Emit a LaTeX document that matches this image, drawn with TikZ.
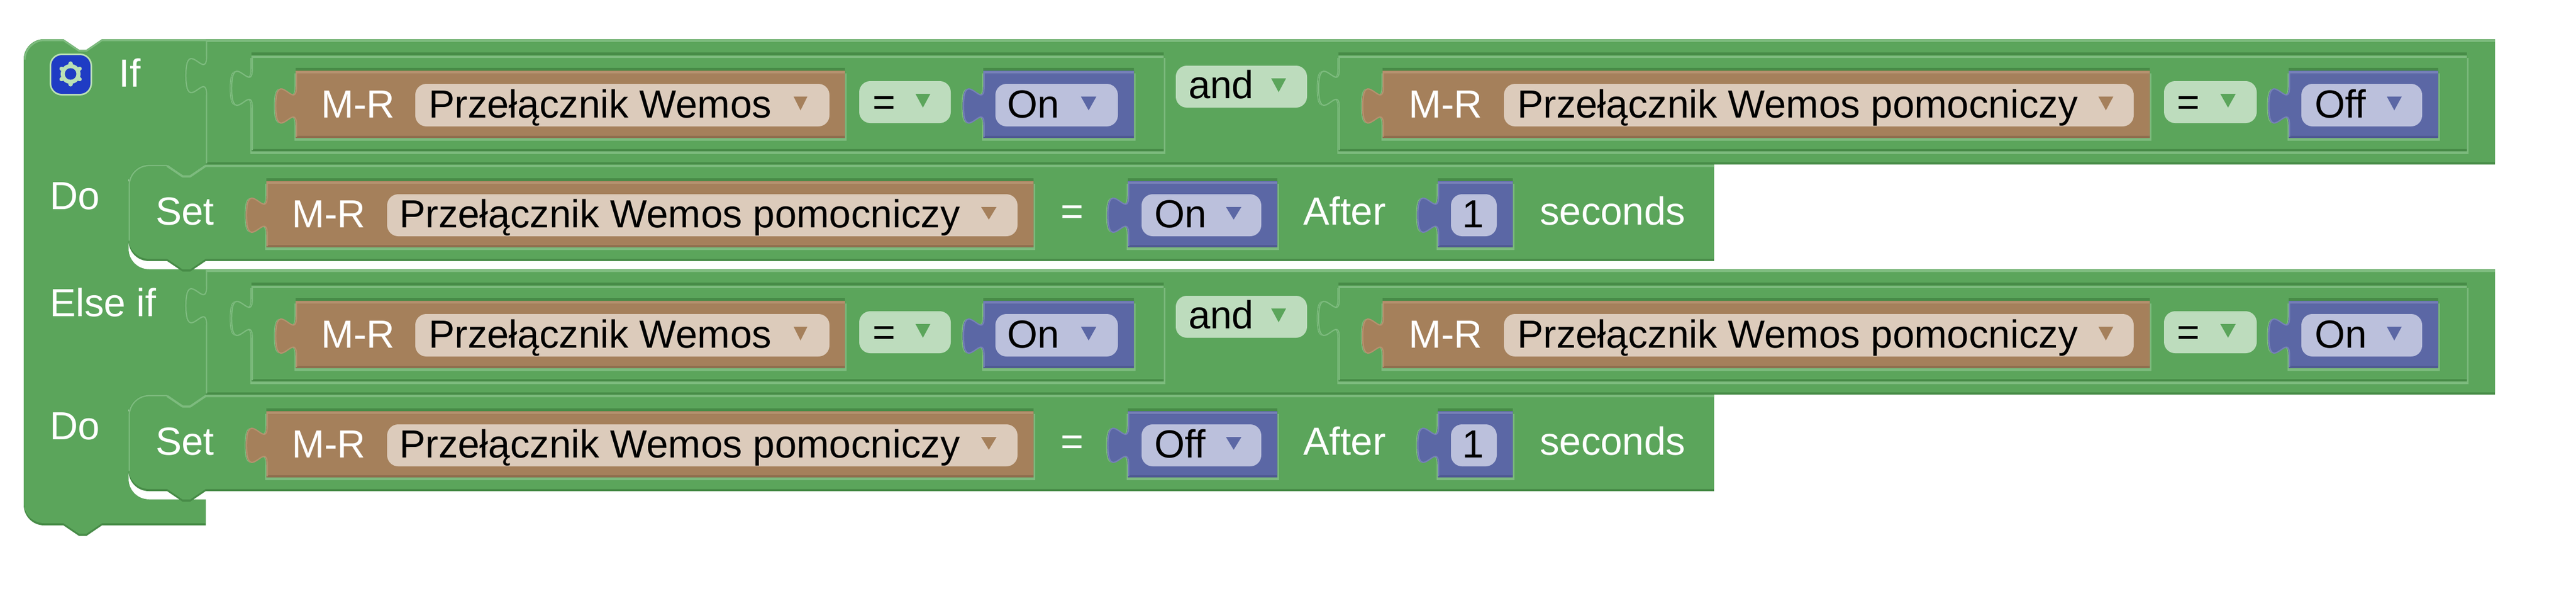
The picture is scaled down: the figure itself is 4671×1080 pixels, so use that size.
\documentclass[tikz,border=0pt]{standalone}
\usepackage{fontspec}
\setmainfont{Liberation Sans}
\definecolor{grnM}{HTML}{5BA55B}
\definecolor{grnD}{HTML}{478B47}
\definecolor{grnL}{HTML}{7DBB7E}
\definecolor{grnF}{HTML}{BDDCBD}
\definecolor{brnM}{HTML}{A5805B}
\definecolor{brnD}{HTML}{8F6E4E}
\definecolor{brnL}{HTML}{B5926F}
\definecolor{brnF}{HTML}{DCCBBB}
\definecolor{bluM}{HTML}{5B67A5}
\definecolor{bluD}{HTML}{4F5A92}
\definecolor{bluL}{HTML}{7680B8}
\definecolor{bluF}{HTML}{BBC0DC}
\definecolor{gearB}{HTML}{1F3CC4}
\definecolor{gearL}{HTML}{BBE0B5}
\tikzset{
  wtext/.style={anchor=base west,inner sep=0pt,text=white,font=\fontsize{14.2}{17}\selectfont},
  btext/.style={anchor=base west,inner sep=0pt,text=black,font=\fontsize{14.2}{17}\selectfont},
  ctext/.style={anchor=base,inner sep=0pt,text=black,font=\fontsize{14.2}{17}\selectfont},
  cwtext/.style={anchor=base,inner sep=0pt,text=white,font=\fontsize{14.2}{17}\selectfont},
  fieldbox/.style={rounded corners=4pt},
  lightedge/.style={line width=0.8pt,line join=round},
  thinedge/.style={line width=0.45pt,line join=round}
}
% value-block outline: xl xr yt yb T
\newcommand\valp[5]{({#1},{#3}) -- ({#2},{#3}) -- ({#2},{#4}) -- ({#1},{#4}) -- ({#1},{#5+70})
  .. controls ({#1},{#5+23.3}) and ({#1-37.4},{#5+107.4}) .. ({#1-37.4},{#5+35})
  .. controls ({#1-37.4},{#5-37.4}) and ({#1},{#5+46.7}) .. ({#1},{#5}) -- cycle}
% block: xl xr yt yb T colour
\newcommand\valb[6]{%
  \fill[#6D] \valp{#1}{#2}{#3}{#4}{#5};
  \fill[#6M] \valp{#1}{#2}{#3}{#4-4}{#5};
  \draw[#6L,thinedge] ({#1+1.5},{#4-2}) -- ({#1+1.5},{#5+70})
    .. controls ({#1+1.5},{#5+23.3}) and ({#1-35.9},{#5+107.4}) .. ({#1-35.9},{#5+35})
    .. controls ({#1-35.9},{#5-37.4}) and ({#1+1.5},{#5+46.7}) .. ({#1+1.5},{#5}) -- ({#1+1.5},{#3+2.5});
  \draw[#6L,lightedge] ({#1},{#3+2.5}) -- ({#2},{#3+2.5});
}
% hole in the green parent: xl xr yt yb T
\newcommand\valh[5]{%
  \fill[grnL] \valp{#1-2}{#2+3}{#3+5}{#4+5}{#5};
  \fill[grnD] \valp{#1}{#2}{#3-5}{#4}{#5};
}
% statement block outline: bottom y
\newcommand\stmtp[1]{(233,335) .. controls (233,314.6) and (249.4,298) .. (270,298) -- (303,298) -- (331,317) -- (345,317) -- (373,298) -- (3108,298) -- (3108,{#1}) -- (373,{#1}) -- (345,{#1+19}) -- (331,{#1+19}) -- (303,{#1}) -- (270,{#1}) .. controls (249.4,{#1}) and (233,{#1-16.6}) .. (233,{#1-37}) -- cycle}
% condition row
\newcommand\condrow[2]{%
  \valb{373}{4524}{71}{298}{102}{grn}
  \valh{456}{2110}{100}{274}{125}
  \valb{456}{2110}{100}{274}{125}{grn}
  \valh{536}{1532}{128}{250}{157}
  \valb{536}{1532}{128}{250}{157}{brn}
  \fill[brnF,fieldbox] (753,152) rectangle (1504,229);
  \fill[brnM] (1439,175) -- (1464,175) -- (1451.5,200) -- cycle;
  \node[wtext] (#1mra) at (581,213) {M-R};
  \node[btext] (#1pa) at (776,213) {Przełącznik Wemos};
  \fill[grnF,fieldbox] (1558,147) rectangle (1724,223);
  \fill[grnM] (1660,170) -- (1687,170) -- (1673.5,195) -- cycle;
  \node[ctext] (#1eqa) at (1603,209) {=};
  \valh{1783}{2056}{128}{250}{157}
  \valb{1783}{2056}{128}{250}{157}{blu}
  \fill[bluF,fieldbox] (1805,152) rectangle (2027,229);
  \fill[bluM] (1960,175) -- (1988,175) -- (1974,200) -- cycle;
  \node[btext] (#1vala) at (1825,213) {On};
  \fill[grnF,fieldbox] (2132,119) rectangle (2370,195);
  \fill[grnM] (2305,142) -- (2332,142) -- (2318.5,167) -- cycle;
  \node[btext] (#1and) at (2154,178) {and};
  \valh{2427}{4473}{100}{274}{125}
  \valb{2427}{4473}{100}{274}{125}{grn}
  \valh{2507}{3898}{128}{250}{157}
  \valb{2507}{3898}{128}{250}{157}{brn}
  \fill[brnF,fieldbox] (2727,152) rectangle (3869,229);
  \fill[brnM] (3805,175) -- (3832,175) -- (3818.5,200) -- cycle;
  \node[wtext] (#1mrb) at (2553,213) {M-R};
  \node[btext] (#1pb) at (2750,213) {Przełącznik Wemos pomocniczy};
  \fill[grnF,fieldbox] (3924,147) rectangle (4092,223);
  \fill[grnM] (4026,170) -- (4054,170) -- (4040,195) -- cycle;
  \node[ctext] (#1eqb) at (3968,209) {=};
  \valh{4150}{4421}{128}{250}{157}
  \valb{4150}{4421}{128}{250}{157}{blu}
  \fill[bluF,fieldbox] (4173,152) rectangle (4392,229);
  \fill[bluM] (4328,175) -- (4355,175) -- (4341.5,200) -- cycle;
  \node[btext] (#1valb) at (4196,213) {#2};
}
% set row
\newcommand\setrow[2]{%
  \fill[grnD] \stmtp{473};
  \fill[grnM] \stmtp{469};
  \draw[grnL,thinedge] (234.5,436) -- (234.5,335) .. controls (234.5,316) and (251,300) .. (270,300) -- (303,300);
  \draw[grnL,lightedge] (303,300.5) -- (331,319.5) -- (345,319.5) -- (373,300.5) -- (3108,300.5);
  \node[wtext] (#1set) at (281,407) {Set};
  \valh{483}{1874}{328}{448}{355}
  \valb{483}{1874}{328}{448}{355}{brn}
  \fill[brnF,fieldbox] (702,352) rectangle (1845,428);
  \fill[brnM] (1779,375) -- (1807,375) -- (1793,398) -- cycle;
  \node[wtext] (#1mr) at (528,412) {M-R};
  \node[btext] (#1p) at (723,412) {Przełącznik Wemos pomocniczy};
  \node[cwtext] (#1eq) at (1944,407) {=};
  \valh{2045}{2316}{328}{448}{355}
  \valb{2045}{2316}{328}{448}{355}{blu}
  \fill[bluF,fieldbox] (2070,352) rectangle (2287,428);
  \fill[bluM] (2223,375) -- (2251,375) -- (2237,398) -- cycle;
  \node[btext] (#1val) at (2092,412) {#2};
  \node[wtext] (#1after) at (2362,407) {After};
  \valh{2607}{2743}{328}{448}{355}
  \valb{2607}{2743}{328}{448}{355}{blu}
  \fill[bluF,fieldbox] (2631,352) rectangle (2714,428);
  \node[ctext] (#1one) at (2671,412) {1};
  \node[wtext] (#1sec) at (2791,407) {seconds};
}
\newcommand\cpath[1]{(43,108) .. controls (43,87.6) and (59.4,71) .. (80,71) -- (115,71) -- (143,90) -- (157,90) -- (185,71) -- (373,71) -- (373,325) -- (233,325) -- (233,451) .. controls (233,471.4) and (249.4,488) .. (270,488) -- (373,488) -- (373,742) -- (233,742) -- (233,868) .. controls (233,888.4) and (249.4,905) .. (270,905) -- (373,905) -- (373,{#1}) -- (185,{#1}) -- (157,{#1+19}) -- (143,{#1+19}) -- (115,{#1}) -- (80,{#1}) .. controls (59.4,{#1}) and (43,{#1-16.6}) .. (43,{#1-37}) -- cycle}
\begin{document}
\begin{tikzpicture}[x=0.2pt,y=-0.2pt]
\useasboundingbox (0,0) rectangle (4671,1080);
% outer if block
\fill[grnD] \cpath{952};
\fill[grnM] \cpath{948};
\draw[grnL,line width=0.6pt,line join=round] (45,108) .. controls (45,89) and (61,73) .. (80,73) -- (115,73) -- (143,92) -- (157,92) -- (185,73) -- (373,73);
% gear button
\fill[gearL,rounded corners=4.4pt] (90,97) rectangle (167,173);
\fill[gearB,rounded corners=3.8pt] (93,100) rectangle (164,170);
\fill[gearL] (128,134) circle [radius=18];
\foreach \a in {30,90,150,210,270,330}
  \draw[gearL,line width=1.5pt,line cap=round] (128,134) -- ++(\a:19);
\fill[gearB] (128,134) circle [radius=10.5];
\node[wtext] (iflab) at (215,157) {If};
\node[wtext] (do1) at (89,379) {Do};
\node[wtext] (elseif) at (89,573) {Else if};
\node[wtext] (do2) at (89,796) {Do};
\begin{scope}
  \condrow{ra}{Off}
\end{scope}
\begin{scope}[yshift=-83.4pt]
  \condrow{rb}{On}
\end{scope}
\begin{scope}
  \setrow{sa}{On}
\end{scope}
\begin{scope}[yshift=-83.4pt]
  \setrow{sb}{Off}
\end{scope}
\end{tikzpicture}
\end{document}
